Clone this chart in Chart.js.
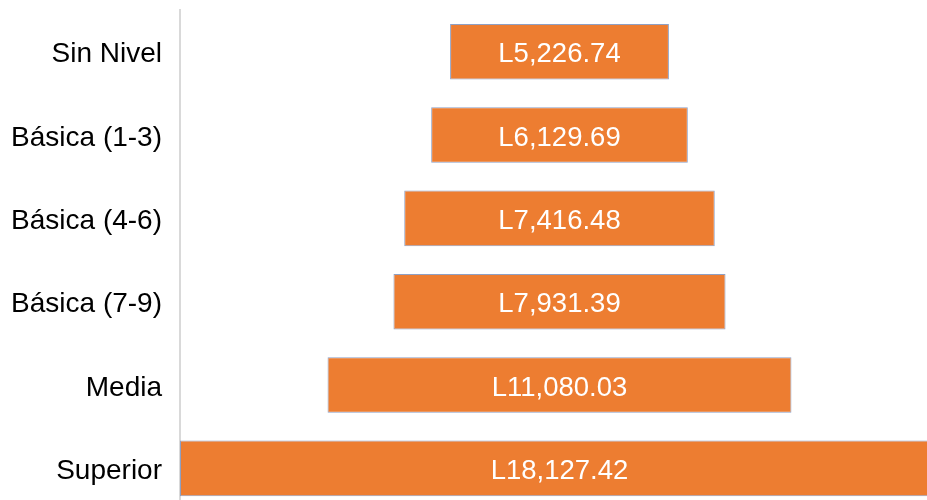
<!DOCTYPE html>
<html>
<head>
<meta charset="utf-8">
<script src="https://cdn.jsdelivr.net/npm/chart.js@4/dist/chart.umd.min.js"></script>
<style>
  html, body { margin: 0; padding: 0; background: #fff; overflow: hidden; }
  #wrap { width: 927px; height: 500px; overflow: hidden; position: relative; }
  #box { width: 939px; height: 510px; position: absolute; left: 0; top: 0; }
</style>
</head>
<body>
<div id="wrap"><div id="box"><canvas id="c"></canvas></div></div>
<script>
const categories = ["Sin Nivel", "Básica (1-3)", "Básica (4-6)", "Básica (7-9)", "Media", "Superior"];
const values = [5226.74, 6129.69, 7416.48, 7931.39, 11080.03, 18127.42];
const valueLabels = ["L5,226.74", "L6,129.69", "L7,416.48", "L7,931.39", "L11,080.03", "L18,127.42"];

const maxVal = Math.max(...values);

const labelPlugin = {
  id: 'centerLabels',
  afterDatasetsDraw(chart) {
    const ctx = chart.ctx;
    const meta = chart.getDatasetMeta(0);
    ctx.save();
    ctx.fillStyle = '#ffffff';
    ctx.font = '27.5px "Liberation Sans", Arial, sans-serif';
    ctx.textAlign = 'center';
    ctx.textBaseline = 'middle';
    meta.data.forEach((el, i) => {
      const cx = (el.x + el.base) / 2;
      ctx.fillText(valueLabels[i], cx, el.y + 3);
    });
    ctx.restore();
  }
};

new Chart(document.getElementById('c'), {
  type: 'bar',
  data: {
    labels: categories,
    datasets: [{
      data: values.map(v => [-v / 2, v / 2]),
      backgroundColor: '#ED7D31',
      borderColor: '#8FA0C4',
      borderWidth: 1,
      borderSkipped: false,
      categoryPercentage: 1,
      barPercentage: 0.667
    }]
  },
  options: {
    indexAxis: 'y',
    responsive: true,
    maintainAspectRatio: false,
    animation: false,
    events: [],
    layout: { padding: { top: 10, right: 0, bottom: 0, left: 0 } },
    plugins: { legend: { display: false }, tooltip: { enabled: false } },
    scales: {
      x: {
        display: false,
        min: -maxVal / 2,
        max: maxVal / 2
      },
      y: {
        afterFit(scale) {
          scale.width = 180;
          scale.paddingTop = 0;
          scale.paddingBottom = 0;
        },
        grid: { display: false, drawTicks: false },
        border: { display: true, color: '#D9D9D9', width: 2 },
        ticks: {
          color: '#000000',
          padding: 18,
          labelOffset: 3,
          font: { family: '"Liberation Sans", Arial, sans-serif', size: 28 }
        }
      }
    }
  },
  plugins: [labelPlugin]
});
</script>
</body>
</html>
